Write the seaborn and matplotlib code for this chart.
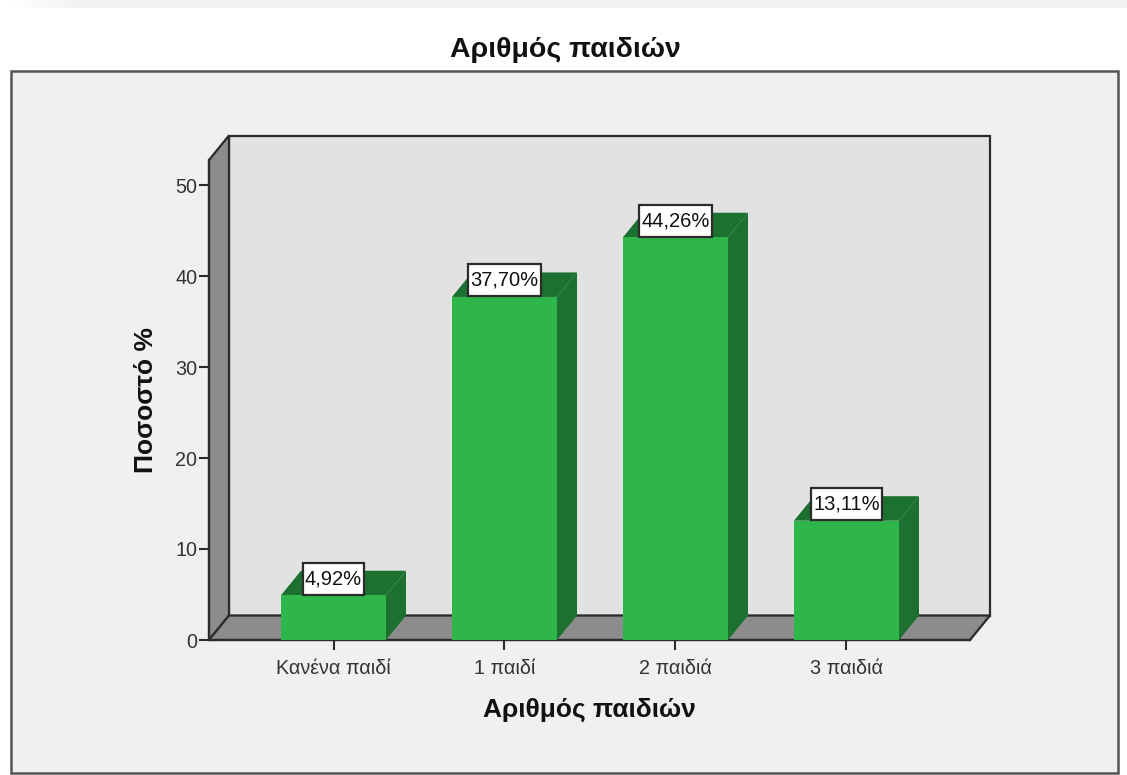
import matplotlib
matplotlib.use("Agg")
import matplotlib.pyplot as plt
from matplotlib.patches import Polygon, Rectangle
from matplotlib.path import Path
import seaborn as sns

categories = ["Κανένα παιδί", "1 παιδί", "2 παιδιά", "3 παιδιά"]
percentages = [4.92, 37.70, 44.26, 13.11]
value_labels = ["4,92%", "37,70%", "44,26%", "13,11%"]
y_ticks = [0, 10, 20, 30, 40, 50]
title = "Αριθμός παιδιών"
x_label = "Αριθμός παιδιών"
y_label = "Ποσοστό %"

W, H = 1127, 775
BAR = "#2fb64a"
BAR_DARK = "#1c7030"
WALL = "#e2e2e2"
SIDE = "#8c8c8c"
PANEL = "#f0f0f0"
LINE = "#2b2b2b"

sns.set_theme(style="white")
plt.rcParams["font.family"] = ["Liberation Sans", "DejaVu Sans"]

fig = plt.figure(figsize=(W / 100, H / 100), dpi=100, facecolor="white")

def fx(px):
    return px / W

def fy(py):
    return 1 - py / H

# Pale strip along the top edge, fading out to the left
strip_start, strip_full = 10, 80
steps = 14
for k in range(steps):
    x0 = strip_start + k * (strip_full - strip_start) / steps
    level = 1 - (k + 1) / steps
    shade = 0xf2 + (0xff - 0xf2) * level
    fig.add_artist(Rectangle((fx(x0), fy(8)), 6 / W, 8 / H, transform=fig.transFigure,
                             facecolor=(shade / 255,) * 3, edgecolor="none"))
fig.add_artist(Rectangle((fx(strip_full), fy(8)), 1, 8 / H, transform=fig.transFigure,
                         facecolor="#f2f2f2", edgecolor="none"))

# Chart panel
fig.add_artist(Rectangle((fx(11), fy(773)), 1107 / W, 702 / H, transform=fig.transFigure,
                         facecolor=PANEL, edgecolor="#555555", linewidth=1.8))

# Plot area matches the front plane of the box
left, right, top, bottom = 209, 970, 160, 640
ax = fig.add_axes([fx(left), fy(bottom), (right - left) / W, (bottom - top) / H])
ax.patch.set_alpha(0)
ax.set_zorder(2)

sns.barplot(x=categories, y=percentages, color=BAR, saturation=1, width=0.614,
            linewidth=0, ax=ax, zorder=5)

slot = 171.0
xmin = -(333.5 - left) / slot
xmax = xmin + (right - left) / slot
ymax = (bottom - top) / 9.1
ax.set_xlim(xmin, xmax)
ax.set_ylim(0, ymax)

# Depth of the box and bars, in axis units
dx = 20 / slot
dy = 24.5 / 9.1

def poly(points, face, z, edge="none", lw=0):
    ax.add_patch(Polygon(points, closed=True, facecolor=face, edgecolor=edge,
                         linewidth=lw, zorder=z, clip_on=False, joinstyle="miter"))

def label_box(x0, y0, width, height, mutation_size):
    # Tall, narrow label frame: little side padding, more above and below
    pad_x, pad_y = 2.0, 6.5
    xa, xb = x0 - pad_x, x0 + width + pad_x
    ya, yb = y0 - pad_y, y0 + height + pad_y
    return Path([(xa, ya), (xb, ya), (xb, yb), (xa, yb), (xa, ya)], closed=True)

poly([(xmin + dx, dy), (xmax + dx, dy), (xmax + dx, ymax + dy), (xmin + dx, ymax + dy)],
     WALL, 1, LINE, 1.6)
poly([(xmin, 0), (xmin + dx, dy), (xmin + dx, ymax + dy), (xmin, ymax)], SIDE, 2, LINE, 1.6)
poly([(xmin, 0), (xmax, 0), (xmax + dx, dy), (xmin + dx, dy)], SIDE, 2, LINE, 1.6)

half = 0.614 / 2
for i, v in enumerate(percentages):
    poly([(i - half, v), (i + half, v), (i + half + dx, v + dy), (i - half + dx, v + dy)],
         BAR_DARK, 3)
    poly([(i + half, 0), (i + half + dx, dy), (i + half + dx, v + dy), (i + half, v)],
         BAR_DARK, 3)
    ax.annotate(value_labels[i], xy=(i, v), xytext=(0, 12), textcoords="offset points",
                ha="center", va="center", fontsize=14.5, color="#111111", zorder=8,
                bbox=dict(boxstyle=label_box, facecolor="white",
                          edgecolor=LINE, linewidth=1.6))

for side in ("top", "right"):
    ax.spines[side].set_visible(False)
for side in ("left", "bottom"):
    ax.spines[side].set_color(LINE)
    ax.spines[side].set_linewidth(1.6)
    ax.spines[side].set_zorder(4)

ax.set_yticks(y_ticks)
ax.tick_params(axis="both", which="major", length=7.5, width=1.5, color=LINE,
               labelsize=14.2, labelcolor="#333333", pad=1, bottom=True, left=True)
ax.tick_params(axis="x", pad=6)
ax.grid(False)

ax.set_xlabel(x_label, fontsize=19, fontweight="bold", color="#111111")
ax.xaxis.set_label_coords((589 - left) / (right - left), (bottom - 710) / (bottom - top))
ax.xaxis.label.set_va("center")
ax.set_ylabel(y_label, fontsize=19, fontweight="bold", color="#111111")
ax.yaxis.set_label_coords((146 - left) / (right - left), (bottom - 400) / (bottom - top))
ax.yaxis.label.set_va("center")

fig.text(fx(565), fy(50), title, ha="center", va="center", fontsize=20.5,
         fontweight="bold", color="#111111")

fig.savefig("out.png", dpi=100, facecolor="white")
